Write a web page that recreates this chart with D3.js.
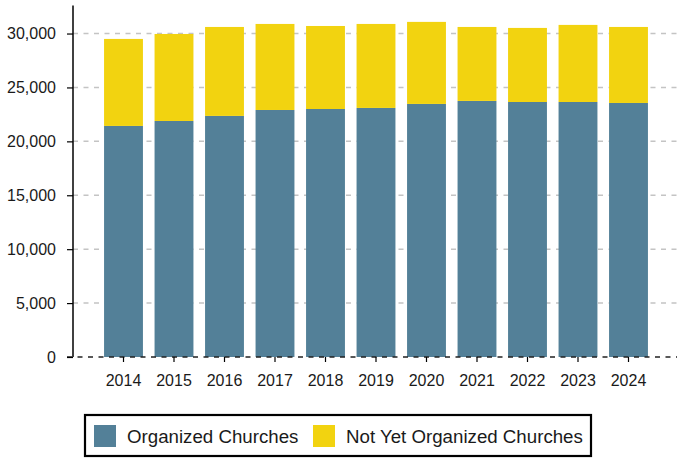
<!DOCTYPE html>
<html>
<head>
<meta charset="utf-8">
<script src="https://cdn.jsdelivr.net/npm/d3@7"></script>
<style>
  body { margin: 0; background: #fff; }
  svg { display: block; font-family: "Liberation Sans", Arial, sans-serif; }
</style>
</head>
<body>
<div id="chart"></div>
<script>
//chart data
const years = ["2014", "2015", "2016", "2017", "2018", "2019", "2020", "2021", "2022", "2023", "2024"];
const organized = [21430, 21890, 22360, 22910, 23000, 23100, 23470, 23750, 23650, 23650, 23560];
const notYetOrganized = [8070, 8070, 8250, 7980, 7700, 7790, 7610, 6860, 6870, 7150, 7050];
const yTicks = [0, 5000, 10000, 15000, 20000, 25000, 30000];
const seriesNames = ["Organized Churches", "Not Yet Organized Churches"];
const seriesColors = ["#538098", "#f2d310"];

const width = 677, height = 458;

const svg = d3.select("#chart")
  .append("svg")
  .attr("width", width)
  .attr("height", height);

const x = d3.scaleBand()
  .domain(years)
  .range([73, 679])
  .paddingInner(0.23)
  .paddingOuter(0.615);

const y = d3.scaleLinear()
  .domain([0, 32600])
  .range([357, 5.5]);

//gridlines behind bars
svg.append("g")
  .selectAll("line")
  .data(yTicks.filter(d => d > 0))
  .join("line")
  .attr("x1", 73)
  .attr("x2", width)
  .attr("y1", d => y(d))
  .attr("y2", d => y(d))
  .attr("stroke", "#c4c4c4")
  .attr("stroke-width", 1.5)
  .attr("stroke-dasharray", "5,5.5");

//stack the two series
const table = years.map((yr, i) => ({ year: yr, a: organized[i], b: notYetOrganized[i] }));
const stacked = d3.stack().keys(["a", "b"])(table);

svg.append("g")
  .selectAll("g")
  .data(stacked)
  .join("g")
  .attr("fill", (d, i) => seriesColors[i])
  .selectAll("rect")
  .data(d => d)
  .join("rect")
  .attr("x", d => x(d.data.year))
  .attr("width", x.bandwidth())
  .attr("y", d => y(d[1]))
  .attr("height", d => y(d[0]) - y(d[1]));

//zero line
svg.append("line")
  .attr("x1", 67)
  .attr("x2", width)
  .attr("y1", y(0))
  .attr("y2", y(0))
  .attr("stroke", "#222")
  .attr("stroke-width", 1.3)
  .attr("stroke-dasharray", "5,5.5");

//y axis
const yAxis = svg.append("g")
  .attr("transform", "translate(73,0)")
  .call(d3.axisLeft(y).tickValues(yTicks).tickSize(6).tickPadding(11)
    .tickFormat(d3.format(",")));
yAxis.select(".domain").remove();
yAxis.selectAll(".tick line").attr("stroke", "#000").attr("stroke-width", 1.2);
yAxis.selectAll(".tick text")
  .attr("font-size", 16)
  .attr("fill", "#1a1a1a")
  .style("font-family", "Liberation Sans, Arial, sans-serif");

svg.append("line")
  .attr("x1", 73)
  .attr("x2", 73)
  .attr("y1", y.range()[1])
  .attr("y2", y(0))
  .attr("stroke", "#000")
  .attr("stroke-width", 1.5);

//x axis
const xAxis = svg.append("g")
  .attr("transform", `translate(0,${y(0)})`)
  .call(d3.axisBottom(x).tickSize(5).tickPadding(13));
xAxis.select(".domain").remove();
xAxis.selectAll(".tick line").attr("stroke", "#000").attr("stroke-width", 1.2);
xAxis.selectAll(".tick text")
  .attr("font-size", 16)
  .attr("fill", "#1a1a1a")
  .style("font-family", "Liberation Sans, Arial, sans-serif");

//legend
const legend = svg.append("g");
legend.append("rect")
  .attr("x", 85)
  .attr("y", 415)
  .attr("width", 506)
  .attr("height", 41)
  .attr("fill", "#fff")
  .attr("stroke", "#000")
  .attr("stroke-width", 2.2);

const legendX = [94, 313];
seriesNames.forEach((name, i) => {
  legend.append("rect")
    .attr("x", legendX[i])
    .attr("y", 425)
    .attr("width", 22)
    .attr("height", 22)
    .attr("fill", seriesColors[i]);
  legend.append("text")
    .attr("x", legendX[i] + 33)
    .attr("y", 436)
    .attr("dominant-baseline", "central")
    .attr("font-size", 18.7)
    .attr("fill", "#1a1a1a")
    .text(name);
});
</script>
</body>
</html>
